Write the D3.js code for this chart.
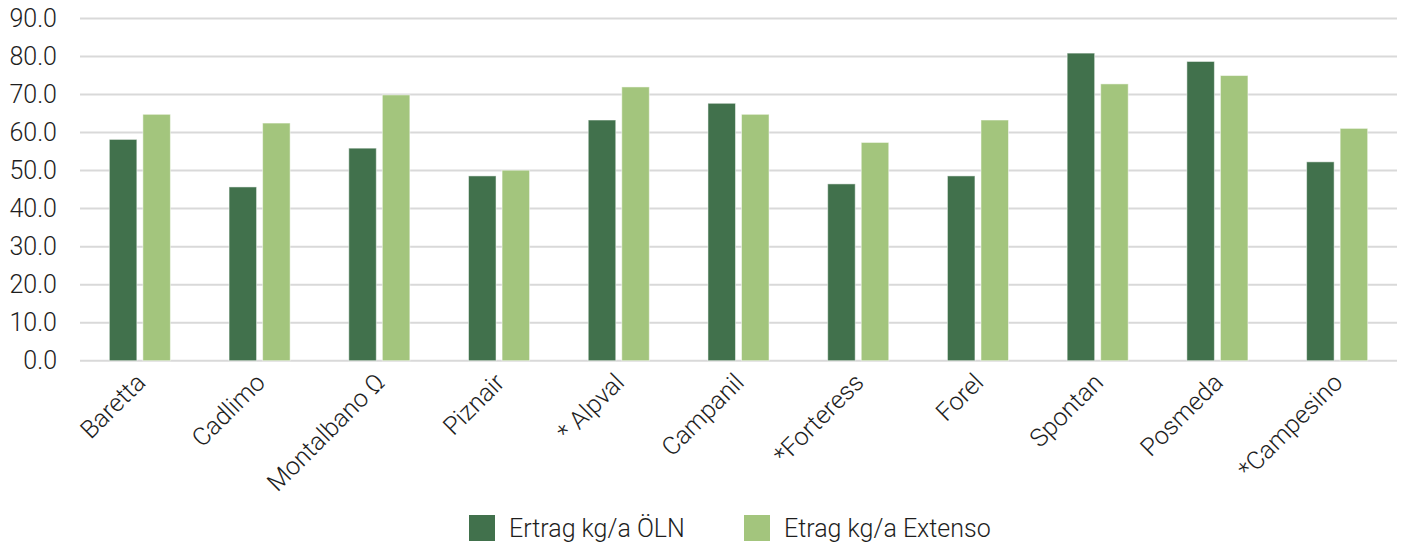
<!DOCTYPE html>
<html>
<head>
<meta charset="utf-8">
<script src="https://cdn.jsdelivr.net/npm/d3@7"></script>
<style>
  body { margin: 0; background: #fff; }
  text { font-family: Roboto, "Liberation Sans", sans-serif; font-weight: 300; fill: #1e1e1e; }
</style>
</head>
<body>
<script>
const categories = ['Baretta', 'Cadlimo', 'Montalbano Ω', 'Piznair', '* Alpval', 'Campanil',
  '*Forteress', 'Forel', 'Spontan', 'Posmeda', '*Campesino'];
const seriesNames = ['Ertrag kg/a ÖLN', 'Etrag kg/a Extenso'];
const oelnValues = [58.2, 45.7, 55.9, 48.6, 63.3, 67.7, 46.5, 48.6, 80.9, 78.7, 52.3];
const extensoValues = [64.8, 62.5, 69.9, 50.1, 72.0, 64.8, 57.4, 63.3, 72.8, 75.0, 61.1];
const yTicks = [0, 10, 20, 30, 40, 50, 60, 70, 80, 90];

const C = {
  width: 1402,
  height: 546,
  left: 80,
  right: 1397,
  top: 18.5,
  bottom: 360.7,
  fontSize: 25,
  colors: ['#41714c', '#a3c57d'],
  grid: '#d9d9d9',
};

const rows = categories.map((name, i) => ({ name, values: [oelnValues[i], extensoValues[i]] }));

const svg = d3.select('body')
  .append('svg')
  .attr('width', C.width)
  .attr('height', C.height);

const x0 = d3.scaleBand()
  .domain(categories)
  .range([C.left, C.right])
  .paddingInner(0.49)
  .paddingOuter(0.245);

const x1 = d3.scaleBand()
  .domain([0, 1])
  .range([0, x0.bandwidth()])
  .paddingInner(0.18);

const y = d3.scaleLinear().domain([0, 90]).range([C.bottom, C.top]);

// gridlines
svg.append('g')
  .selectAll('line')
  .data(yTicks)
  .enter()
  .append('line')
  .attr('x1', C.left)
  .attr('x2', C.right)
  .attr('y1', d => y(d))
  .attr('y2', d => y(d))
  .style('stroke', C.grid)
  .style('stroke-width', 2);

// y labels
svg.append('g')
  .selectAll('text')
  .data(yTicks)
  .enter()
  .append('text')
  .attr('x', 57)
  .attr('y', d => y(d))
  .attr('text-anchor', 'end')
  .attr('dominant-baseline', 'central')
  .style('font-size', C.fontSize + 'px')
  .text(d => d.toFixed(1));

// bars
const groups = svg.append('g')
  .selectAll('g')
  .data(rows)
  .enter()
  .append('g')
  .attr('transform', d => `translate(${x0(d.name)},0)`);

groups.selectAll('rect')
  .data(d => d.values.map((v, i) => ({ v, i })))
  .enter()
  .append('rect')
  .attr('x', d => x1(d.i))
  .attr('width', x1.bandwidth())
  .attr('y', d => y(d.v))
  .attr('height', d => y(0) - y(d.v))
  .style('fill', d => C.colors[d.i])
  .style('stroke', 'rgba(255,255,255,0.5)')
  .style('stroke-width', 1);

// category labels, rotated
svg.append('g')
  .selectAll('text')
  .data(categories)
  .enter()
  .append('text')
  .attr('transform', d => {
    const cx = x0(d) + x0.bandwidth() / 2 + 7;
    return `translate(${cx},384) rotate(-45)`;
  })
  .attr('text-anchor', 'end')
  .style('font-size', C.fontSize + 'px')
  .text(d => d);

// legend
const legendX = [469, 744];
const legend = svg.append('g')
  .selectAll('g')
  .data(seriesNames)
  .enter()
  .append('g')
  .attr('transform', (d, i) => `translate(${legendX[i]},515)`);

legend.append('rect')
  .attr('width', 26)
  .attr('height', 26)
  .style('fill', (d, i) => C.colors[i]);

legend.append('text')
  .attr('x', 40)
  .attr('y', 13)
  .attr('dominant-baseline', 'central')
  .style('font-size', C.fontSize + 'px')
  .text(d => d);
</script>
</body>
</html>
